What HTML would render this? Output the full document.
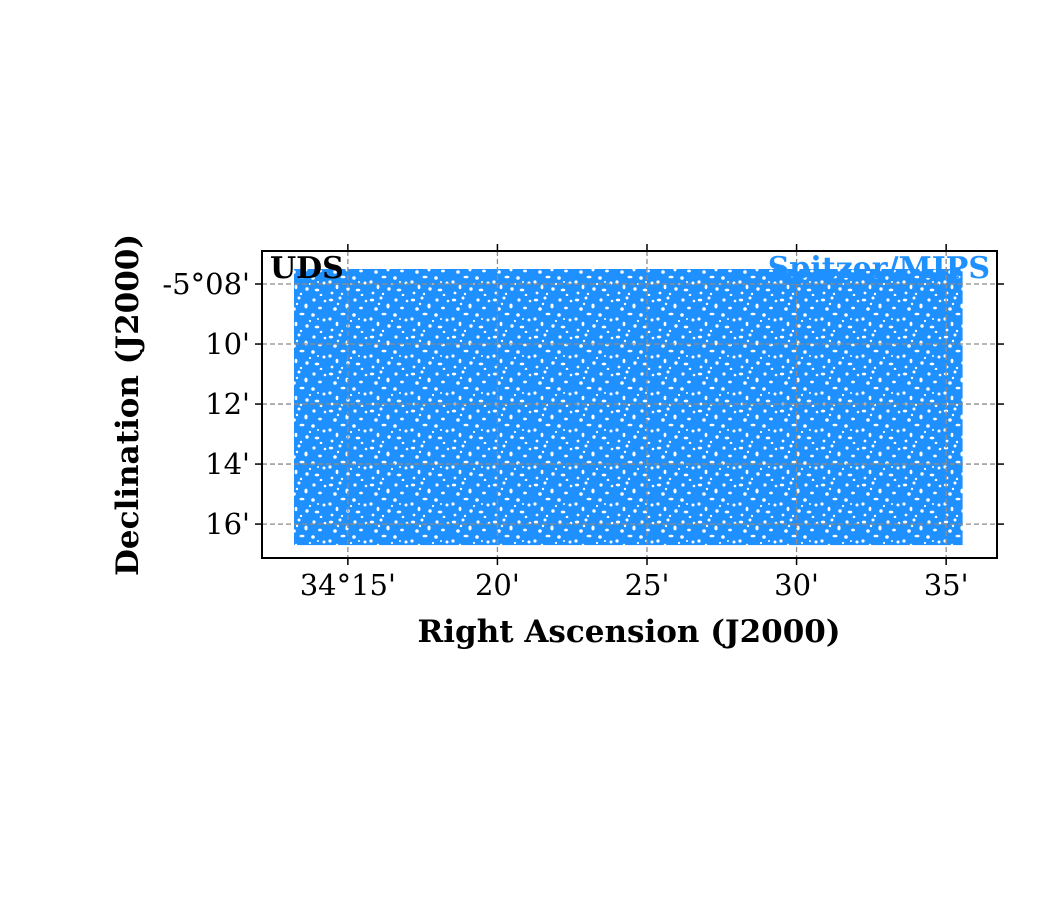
<!DOCTYPE html>
<html><head><meta charset="utf-8"><style>
html,body{margin:0;padding:0;background:#fff;}
svg{display:block;font-family:"DejaVu Serif","Liberation Serif",serif;}
</style></head><body>
<svg id="chart" width="1050" height="900" viewBox="0 0 1050 900">
<defs>
<pattern id="speckle" width="41" height="37" patternUnits="userSpaceOnUse">
<rect width="41" height="37" fill="#1e90ff"/>
<g fill="#fff">
<ellipse cx="3" cy="4" rx="2.2" ry="1.4"/><circle cx="12" cy="2" r="1.5"/>
<ellipse cx="19" cy="10" rx="1.6" ry="2.4"/><circle cx="7" cy="13" r="1.8"/>
<ellipse cx="15" cy="18" rx="2.5" ry="1.3"/><circle cx="27" cy="4" r="1.6"/>
<circle cx="2" cy="23" r="1.6"/><circle cx="10" cy="8" r="1.2"/>
<ellipse cx="33" cy="12" rx="1.9" ry="1.4"/><circle cx="26" cy="19" r="1.8"/>
<circle cx="37" cy="24" r="1.5"/><ellipse cx="9" cy="28" rx="1.4" ry="2.2"/>
<circle cx="20" cy="30" r="1.7"/><ellipse cx="30" cy="31" rx="2.3" ry="1.4"/>
<circle cx="38" cy="5" r="1.3"/><circle cx="23" cy="25" r="1.1"/>
<circle cx="4" cy="34" r="1.4"/><circle cx="14" cy="35" r="1.2"/>
<circle cx="34" cy="36" r="1.3"/><circle cx="31" cy="23" r="1.0"/>
</g>
</pattern>
<clipPath id="plotclip"><rect x="262" y="251" width="735" height="307"/></clipPath>
</defs>
<g id="marks" clip-path="url(#plotclip)"></g>
<g id="grid"></g>
<g id="axes"></g>
<text x="270" y="278" font-size="30" font-weight="bold" fill="#000">UDS</text>
<text x="990" y="278" font-size="30" font-weight="bold" fill="#1e90ff" text-anchor="end">Spitzer/MIPS</text>
<text x="629" y="642" font-size="31" font-weight="bold" text-anchor="middle">Right Ascension (J2000)</text>
<text transform="translate(138,405) rotate(-90)" font-size="31" font-weight="bold" text-anchor="middle">Declination (J2000)</text>
</svg>
<script>
// RA in arcmin past 34 deg, Dec in arcmin below -5 deg
const raTicks=[15,20,25,30,35];
const raTickLabels=["34°15'","20'","25'","30'","35'"];
const decTicks=[8,10,12,14,16];
const decTickLabels=["-5°08'","10'","12'","14'","16'"];
const surveyRA=[13.2,35.55];
const surveyDec=[7.5,16.7];
const NS='http://www.w3.org/2000/svg';
const L=262,R=997,T=251,B=558;
const raMin=12.13,raMax=36.70,decMin=6.9,decMax=17.13;
const xs=v=>L+(v-raMin)/(raMax-raMin)*(R-L);
const ys=v=>T+(v-decMin)/(decMax-decMin)*(B-T);
function mk(tag,attrs,parent){const e=document.createElementNS(NS,tag);for(const k in attrs)e.setAttribute(k,attrs[k]);parent.appendChild(e);return e;}
const grid=document.getElementById('grid'),axes=document.getElementById('axes'),marks=document.getElementById('marks');
const area=mk('rect',{x:xs(surveyRA[0]),y:ys(surveyDec[0]),width:xs(surveyRA[1])-xs(surveyRA[0]),height:ys(surveyDec[1])-ys(surveyDec[0]),fill:'url(#speckle)'},marks);


raTicks.forEach((v,i)=>{const x=xs(v);
 const g=mk('line',{x1:x,x2:x,y1:T,y2:B,stroke:'#8c8c8c','stroke-dasharray':'5,3','stroke-width':1.3},grid);
 
 mk('line',{x1:x,x2:x,y1:B,y2:B+7,stroke:'#000','stroke-width':1.5},axes);
 mk('line',{x1:x,x2:x,y1:T,y2:T-7,stroke:'#000','stroke-width':1.5},axes);
 const t=mk('text',{x:x,y:B+37,'font-size':29,'text-anchor':'middle'},axes);t.textContent=raTickLabels[i];
 });
decTicks.forEach((v,i)=>{const y=ys(v);
 const g=mk('line',{x1:L,x2:R,y1:y,y2:y,stroke:'#8c8c8c','stroke-dasharray':'5,3','stroke-width':1.3},grid);
 
 mk('line',{x1:L-7,x2:L,y1:y,y2:y,stroke:'#000','stroke-width':1.5},axes);
 mk('line',{x1:R,x2:R+7,y1:y,y2:y,stroke:'#000','stroke-width':1.5},axes);
 const t=mk('text',{x:L-12,y:y+10,'font-size':29,'text-anchor':'end'},axes);t.textContent=decTickLabels[i];
 });
const fr=mk('rect',{x:L,y:T,width:R-L,height:B-T,fill:'none',stroke:'#000','stroke-width':2},axes);

</script>
</body></html>
